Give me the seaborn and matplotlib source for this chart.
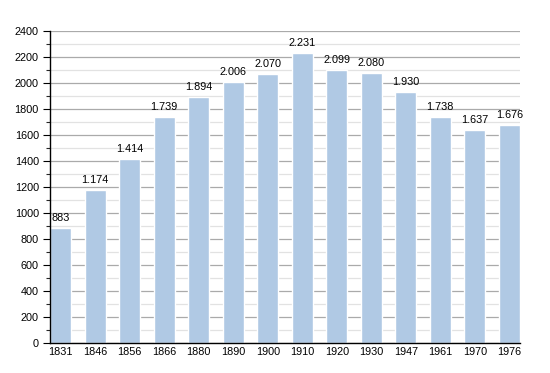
import matplotlib
matplotlib.use("Agg")
import matplotlib.pyplot as plt
import seaborn as sns
import pandas as pd
from matplotlib.ticker import MultipleLocator

years = ["1831", "1846", "1856", "1866", "1880", "1890", "1900", "1910", "1920", "1930", "1947", "1961", "1970", "1976"]
population = [883, 1174, 1414, 1739, 1894, 2006, 2070, 2231, 2099, 2080, 1930, 1738, 1637, 1676]

df = pd.DataFrame({"year": years, "pop": population})

sns.set_style("white")
plt.rcParams['font.family'] = ['Liberation Sans', 'DejaVu Sans']

fig = plt.figure(figsize=(5.5, 3.73), dpi=100)
ax = fig.add_axes([50/550, 30/373, 470/550, 312/373])

sns.barplot(data=df, x="year", y="pop", color="#b0c9e4", saturation=1, width=0.62, ax=ax, zorder=3)

ax.set_ylim(0, 2400)
ax.set_xlim(-0.31, 13.31)
ax.yaxis.set_major_locator(MultipleLocator(200))
ax.yaxis.set_minor_locator(MultipleLocator(100))
ax.grid(which="major", axis="y", color="#aaaaaa", linewidth=0.9, zorder=0)
ax.grid(which="minor", axis="y", color="#e2e2e2", linewidth=0.9, zorder=0)
ax.set_axisbelow(True)

for s in ["top", "right"]:
    ax.spines[s].set_visible(False)
for s in ["left", "bottom"]:
    ax.spines[s].set_color("black")
    ax.spines[s].set_linewidth(1.0)
    ax.spines[s].set_zorder(5)

ax.tick_params(axis="y", which="major", length=5, width=0.8, labelsize=7.8, colors="black", direction="out", left=True, pad=3)
ax.tick_params(axis="y", which="minor", length=3, width=0.8, direction="out", left=True)
ax.tick_params(axis="x", length=0, labelsize=7.8, pad=3, colors="black")
ax.set_xlabel("")
ax.set_ylabel("")

for i, v in enumerate(population):
    lbl = f"{v:,}".replace(",", ".")
    ax.text(i, v + 38, lbl, ha="center", va="bottom", fontsize=7.8, color="black", zorder=6)

fig.savefig("out.png", dpi=100)
